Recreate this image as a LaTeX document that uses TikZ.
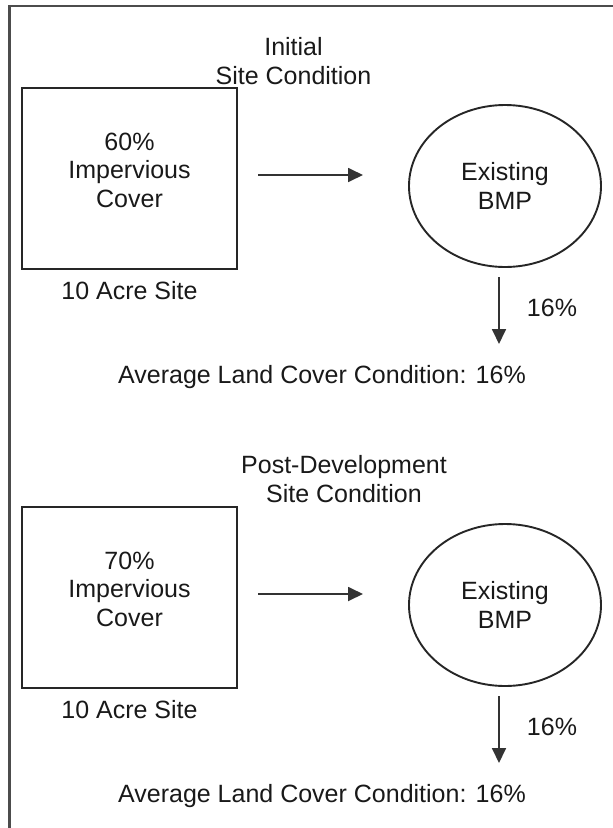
\documentclass[tikz,border=0pt]{standalone}
\usepackage{fontspec}
\setmainfont{Liberation Sans}
\usetikzlibrary{shapes.geometric,arrows.meta}

\begin{document}
\begin{tikzpicture}[x=1pt, y=-1pt,
    textStyle/.style={align=center, inner sep=0pt, text=black!90, font=\fontsize{25}{28.5}\selectfont},
    siteBox/.style={rectangle, draw=black!85, line width=2pt, minimum width=215pt, minimum height=181pt, inner sep=0pt},
    bmpStyle/.style={ellipse, draw=black!85, line width=1.9pt, minimum width=192pt, minimum height=162pt, inner sep=0pt, textStyle},
    flowStyle/.style={-{Triangle[length=15pt,width=14pt]}, draw=black!80, line width=1.8pt}]
    \useasboundingbox (0,0) rectangle (613,828);

    % Frame
    \draw[line width=2.2pt, black!70] (9.5,828) -- (9.5,6) -- (613,6);

    % Initial condition
    \node[textStyle] (title1) at (293.5, 61) {Initial\\Site Condition};
    \node[siteBox] (site1) at (129.5, 178.5) {};
    \node[textStyle] (cover1) at (129.5, 170) {60\%\\Impervious\\Cover};
    \node[textStyle] (acre1) at (129.5, 291) {10 Acre Site};
    \node[bmpStyle] (bmp1) at (505, 186) {Existing\\BMP};
    \node[textStyle] (pct1) at (552, 308) {16\%};
    \node[textStyle] (avg1) at (322, 377) {Average Land Cover Condition: 16\%};
    \coordinate (flow1a) at (258, 175);
    \coordinate (flow1b) at (363, 175);
    \coordinate (drop1a) at (499, 277);
    \coordinate (drop1b) at (499, 344);

    % Post-development condition
    \node[textStyle] (title2) at (344, 479) {Post-Development\\Site Condition};
    \node[siteBox] (site2) at (129.5, 597.5) {};
    \node[textStyle] (cover2) at (129.5, 589) {70\%\\Impervious\\Cover};
    \node[textStyle] (acre2) at (129.5, 710) {10 Acre Site};
    \node[bmpStyle] (bmp2) at (505, 605) {Existing\\BMP};
    \node[textStyle] (pct2) at (552, 727) {16\%};
    \node[textStyle] (avg2) at (322, 796) {Average Land Cover Condition: 16\%};
    \coordinate (flow2a) at (258, 594);
    \coordinate (flow2b) at (363, 594);
    \coordinate (drop2a) at (499, 696);
    \coordinate (drop2b) at (499, 763);

    % Arrows
    \draw[flowStyle] (flow1a) -- (flow1b);
    \draw[flowStyle] (drop1a) -- (drop1b);
    \draw[flowStyle] (flow2a) -- (flow2b);
    \draw[flowStyle] (drop2a) -- (drop2b);
\end{tikzpicture}
\end{document}
